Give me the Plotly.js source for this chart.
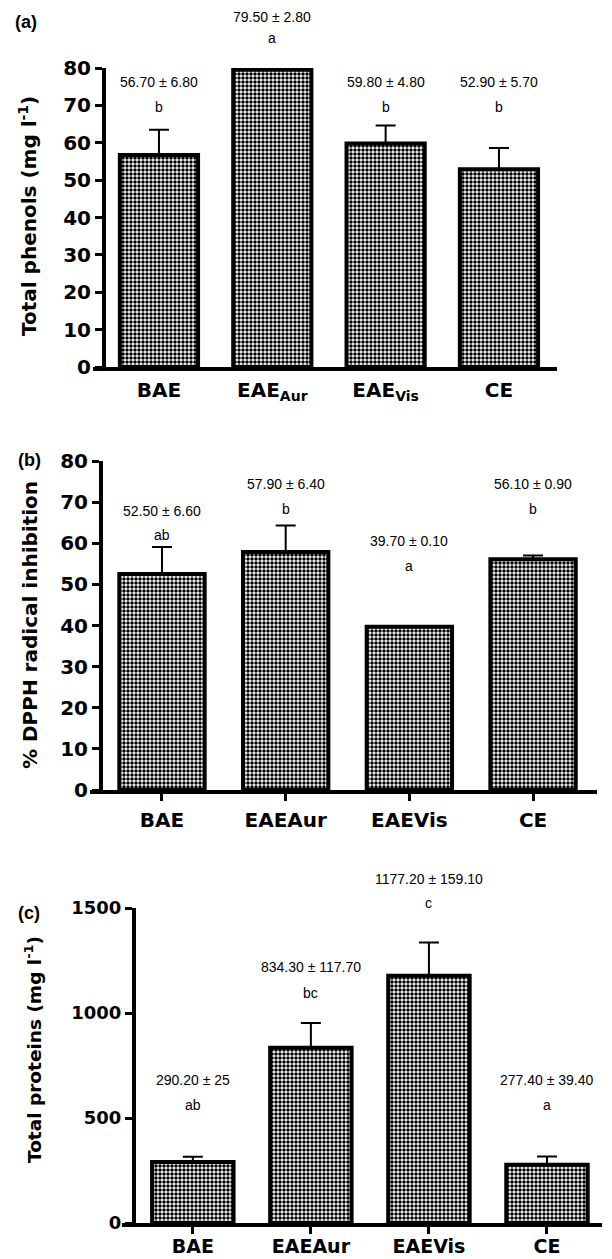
<!DOCTYPE html>
<html>
<head>
<meta charset="utf-8">
<script src="https://cdn.plot.ly/plotly-3.0.1.min.js"></script>
<style>html,body{margin:0;padding:0;background:#fff;}#chart{width:612px;height:1259px;}</style>
</head>
<body>
<div id="chart"></div>
<script>
// ---------- data ----------
const catsA = ['BAE', 'EAE<sub>Aur</sub>', 'EAE<sub>Vis</sub>', 'CE'];
const catsB = ['BAE', 'EAEAur', 'EAEVis', 'CE'];
const catsC = ['BAE', 'EAEAur', 'EAEVis', 'CE'];

const phenolsMean = [56.7, 79.5, 59.8, 52.9];
const phenolsSD = [6.8, 2.8, 4.8, 5.7];
const phenolsLabel = ['56.70 ± 6.80', '79.50 ± 2.80', '59.80 ± 4.80', '52.90 ± 5.70'];
const phenolsLetter = ['b', 'a', 'b', 'b'];

const dpphMean = [52.5, 57.9, 39.7, 56.1];
const dpphSD = [6.6, 6.4, 0.1, 0.9];
const dpphLabel = ['52.50 ± 6.60', '57.90 ± 6.40', '39.70 ± 0.10', '56.10 ± 0.90'];
const dpphLetter = ['ab', 'b', 'a', 'b'];

const proteinMean = [290.2, 834.3, 1177.2, 277.4];
const proteinSD = [25, 117.7, 159.1, 39.4];
const proteinLabel = ['290.20 ± 25', '834.30 ± 117.70', '1177.20 ± 159.10', '277.40 ± 39.40'];
const proteinLetter = ['ab', 'bc', 'c', 'a'];

const yTitles = ['Total phenols (mg l<sup>-1</sup>)', '% DPPH radical inhibition', 'Total proteins (mg l<sup>-1</sup>)'];
const panelTags = ['(a)', '(b)', '(c)'];

// ---------- helpers ----------
const W = 612, H = 1259;
const fx = p => p / W;
const fy = p => 1 - p / H;
const FONT = 'Arial, "Liberation Sans", sans-serif';
const BOLD = '"DejaVu Sans", Arial, sans-serif';

function barTrace(cats, mean, sd, xa, ya) {
  return {
    type: 'bar',
    x: cats.map((c, i) => i),
    y: mean,
    xaxis: xa, yaxis: ya,
    width: 0.69,
    marker: {
      color: 'white',
      line: {color: 'black', width: 4},
      pattern: {shape: '.', size: 4, solidity: 0.6, fgcolor: 'black', bgcolor: 'white', fillmode: 'replace'}
    },
    error_y: {
      type: 'data', symmetric: false, array: sd, arrayminus: sd.map(() => 0),
      color: 'black', thickness: 2, width: 10
    },
    hoverinfo: 'skip',
    showlegend: false
  };
}

const data = [
  barTrace(catsA, phenolsMean, phenolsSD, 'x', 'y'),
  barTrace(catsB, dpphMean, dpphSD, 'x2', 'y2'),
  barTrace(catsC, proteinMean, proteinSD, 'x3', 'y3')
];

function xAxis(domain, range, cats, ticks, anchor, fs, standoff) {
  return {
    domain: domain, range: range, anchor: anchor,
    tickmode: 'array', tickvals: cats.map((c, i) => i), ticktext: cats,
    showline: true, linewidth: 3.5, linecolor: 'black',
    ticks: ticks ? 'outside' : '', ticklen: 7, tickwidth: 3, tickcolor: 'black',
    ticklabelstandoff: standoff,
    tickfont: {family: BOLD, size: fs, color: 'black', weight: 'bold'},
    showgrid: false, zeroline: false, automargin: false, fixedrange: true
  };
}
function yAxis(domain, range, dtick, pos, fs) {
  return {
    domain: domain, range: range, anchor: 'free', position: pos,
    dtick: dtick, tick0: 0,
    showline: true, linewidth: 3.5, linecolor: 'black',
    ticks: 'outside', ticklen: 7, tickwidth: 3, tickcolor: 'black',
    tickfont: {family: BOLD, size: fs, color: 'black', weight: 'bold'},
    showgrid: false, zeroline: false, automargin: false, fixedrange: true
  };
}

const annotations = [];
function addLabels(labels, letters, xref, yTop, yLet) {
  labels.forEach((t, i) => {
    annotations.push({xref: xref, yref: 'paper', x: i, y: fy(yTop[i]), text: t, showarrow: false,
      font: {family: FONT, size: 14, color: 'black'}, xanchor: 'center', yanchor: 'middle'});
    annotations.push({xref: xref, yref: 'paper', x: i, y: fy(yLet[i]), text: letters[i], showarrow: false,
      font: {family: FONT, size: 14, color: 'black'}, xanchor: 'center', yanchor: 'middle'});
  });
}
addLabels(phenolsLabel, phenolsLetter, 'x', [82, 17, 82, 82], [107, 38, 107, 107]);
addLabels(dpphLabel, dpphLetter, 'x2', [511, 484, 541, 484], [535, 509, 566, 509]);
addLabels(proteinLabel, proteinLetter, 'x3', [1080, 967, 879, 1080], [1105, 993, 903, 1105]);

[[26, 22], [29, 460], [29, 913]].forEach((p, i) => {
  annotations.push({xref: 'paper', yref: 'paper', x: fx(p[0]), y: fy(p[1]), text: panelTags[i], showarrow: false,
    font: {family: FONT, size: 18, color: 'black', weight: 'bold'}, xanchor: 'center', yanchor: 'middle'});
});
[[28, 216, 20], [30, 625, 20], [33, 1050, 18.5]].forEach((p, i) => {
  annotations.push({xref: 'paper', yref: 'paper', x: fx(p[0]), y: fy(p[1]), text: yTitles[i], showarrow: false,
    textangle: -90, font: {family: BOLD, size: p[2], color: 'black', weight: 'bold'}, xanchor: 'center', yanchor: 'middle'});
});

const layout = {
  width: W, height: H,
  margin: {l: 0, r: 0, t: 0, b: 0},
  paper_bgcolor: 'white', plot_bgcolor: 'rgba(0,0,0,0)',
  showlegend: false,
  xaxis: xAxis([fx(93), fx(557)], [-0.582, 3.512], catsA, false, 'y', 20, 2),
  yaxis: yAxis([fy(367), fy(68)], [0, 80], 10, fx(103), 20),
  xaxis2: xAxis([fx(90), fx(597)], [-0.582, 3.517], catsB, true, 'y2', 20, 2),
  yaxis2: yAxis([fy(790), fy(461)], [0, 80], 10, fx(100), 20),
  xaxis3: xAxis([fx(122), fx(602)], [-0.60, 3.466], catsC, true, 'y3', 19, -3),
  yaxis3: yAxis([fy(1223), fy(908)], [0, 1500], 500, fx(133), 18),
  annotations: annotations
};

Plotly.newPlot('chart', data, layout, {staticPlot: true, displayModeBar: false});
</script>
</body>
</html>
